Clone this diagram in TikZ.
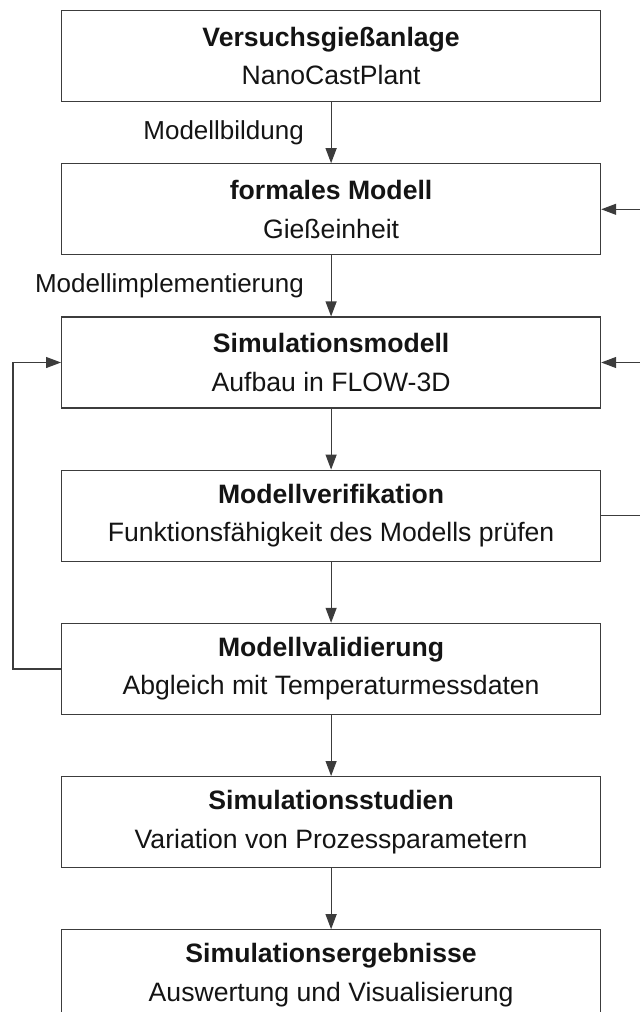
\documentclass[tikz,border=0pt]{standalone}
\usepackage{fontspec}
\setmainfont{Liberation Sans}
\usetikzlibrary{positioning,arrows.meta}

\definecolor{linegray}{HTML}{3C3C3C}
\definecolor{textgray}{HTML}{141414}

\tikzset{
    stage/.style={draw=linegray, line width=0.6pt, minimum width=269.5pt,
        minimum height=45.5pt, inner sep=0pt, align=center, text=textgray,
        font=\fontsize{13.3}{19.2}\selectfont},
    flow/.style={draw=linegray, line width=0.6pt, -{Triangle[length=7.5pt,width=5.5pt]}},
    steplabel/.style={text=textgray, font=\fontsize{13}{16}\selectfont}
}

\begin{document}
\begin{tikzpicture}
    \def\gap{30.5pt}   % Space between two stages
    \def\loopl{24pt}   % Offset of the left return line
    \def\loopr{30pt}   % Offset of the right return line

    \useasboundingbox (0,0) rectangle (320pt,-506pt);

    % Draw the stages from top to bottom
    \node[stage, anchor=north west] (anlage) at (30.5pt,-5pt)
        {\textbf{Versuchsgießanlage}\\NanoCastPlant};
    \node[stage, below=\gap of anlage] (formal)
        {\textbf{formales Modell}\\Gießeinheit};
    \node[stage, below=\gap of formal] (simmod)
        {\textbf{Simulationsmodell}\\Aufbau in FLOW-3D};
    \node[stage, below=\gap of simmod] (verif)
        {\textbf{Modellverifikation}\\Funktionsfähigkeit des Modells prüfen};
    \node[stage, below=\gap of verif] (valid)
        {\textbf{Modellvalidierung}\\Abgleich mit Temperaturmessdaten};
    \node[stage, below=\gap of valid] (studien)
        {\textbf{Simulationsstudien}\\Variation von Prozessparametern};
    \node[stage, below=\gap of studien] (ergebnis)
        {\textbf{Simulationsergebnisse}\\Auswertung und Visualisierung};

    % Main flow with the labelled steps
    \draw[flow] (anlage) -- node[steplabel, midway, left=10pt] (bildung) {Modellbildung} (formal);
    \draw[flow] (formal) -- node[steplabel, midway, left=10pt] (implement) {Modellimplementierung} (simmod);
    \draw[flow] (simmod) -- (verif);
    \draw[flow] (verif) -- (valid);
    \draw[flow] (valid) -- (studien);
    \draw[flow] (studien) -- (ergebnis);

    % Return from the validation back to the simulation model
    \draw[flow] (valid.west) -- ++(-\loopl,0) |- (simmod.west);

    % Return from the verification on the right side
    \coordinate (rback) at ([xshift=\loopr]verif.east);
    \draw[flow] (verif.east) -- (rback) |- (formal.east);
    \draw[flow] (rback) |- (simmod.east);
\end{tikzpicture}
\end{document}
